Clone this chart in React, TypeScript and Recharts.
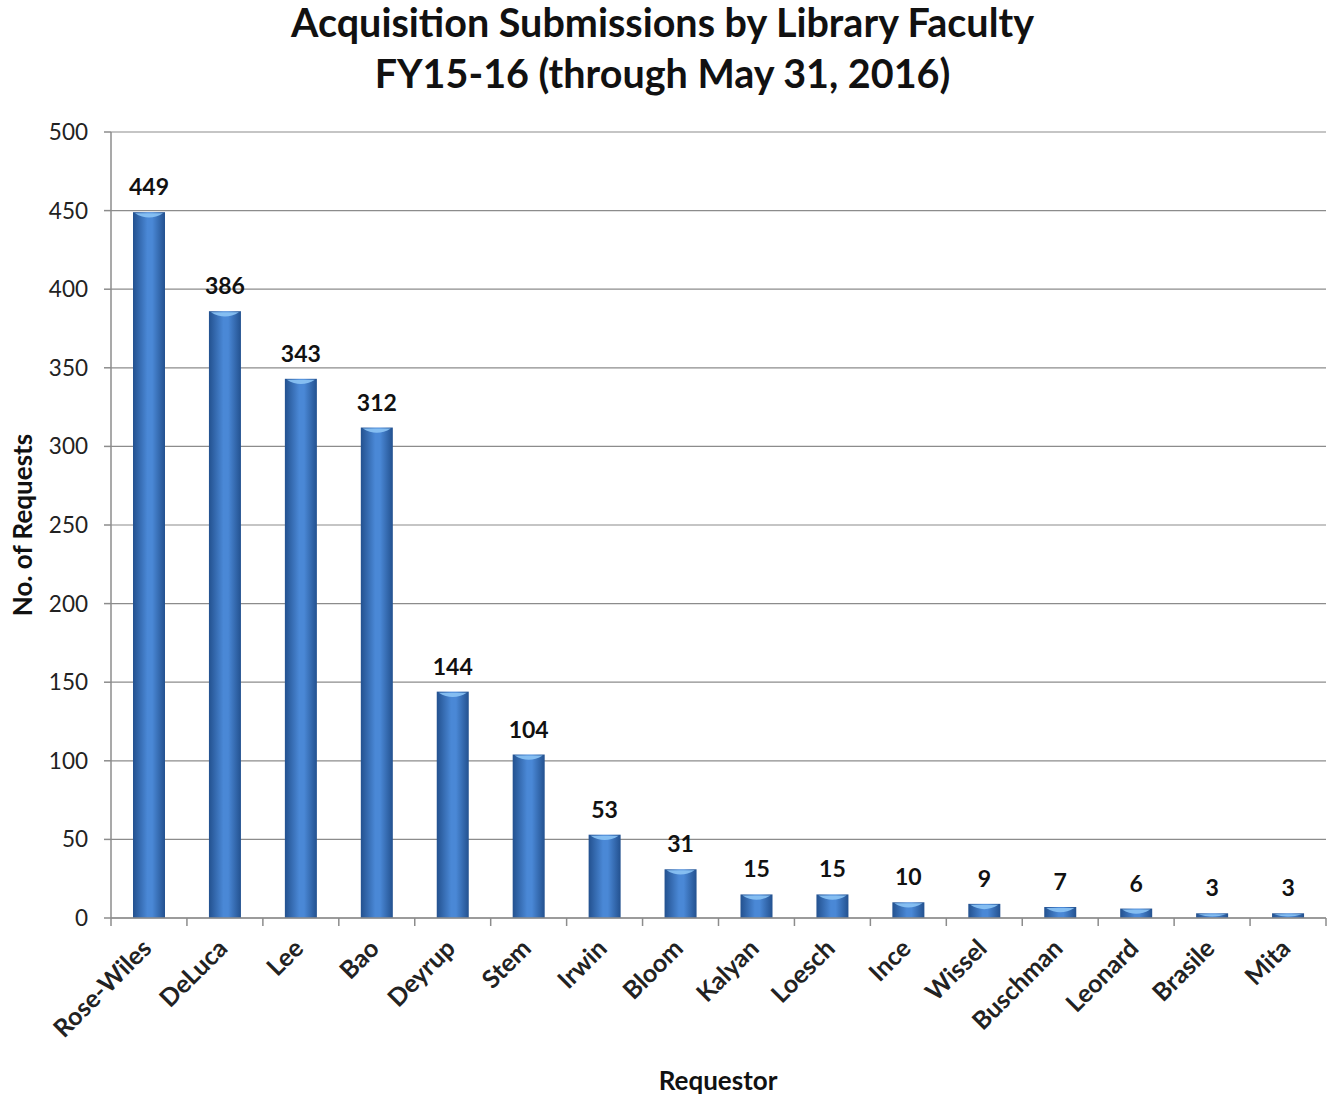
import React from 'react';
import { BarChart, Bar, XAxis, YAxis, CartesianGrid, LabelList } from 'recharts';

const requestors = [
  'Rose-Wiles', 'DeLuca', 'Lee', 'Bao', 'Deyrup', 'Stem', 'Irwin', 'Bloom',
  'Kalyan', 'Loesch', 'Ince', 'Wissel', 'Buschman', 'Leonard', 'Brasile', 'Mita',
];
const requestCounts = [449, 386, 343, 312, 144, 104, 53, 31, 15, 15, 10, 9, 7, 6, 3, 3];
const yTicks = [0, 50, 100, 150, 200, 250, 300, 350, 400, 450, 500];

const data = requestors.map((name, i) => ({ name, requests: requestCounts[i] }));

const FONT = 'Lato, "Open Sans", sans-serif';
const AXIS_GRAY = '#8c8c8c';

function CategoryTick(props: any) {
  const { x, y, payload, index } = props;
  const half = payload?.offset ?? 38;
  const last = index === requestors.length - 1;
  return (
    <g>
      <line x1={x - half} y1={y - 8} x2={x - half} y2={y} stroke={AXIS_GRAY} strokeWidth={1.5} />
      {last && <line x1={x + half} y1={y - 8} x2={x + half} y2={y} stroke={AXIS_GRAY} strokeWidth={1.5} />}
      <text
        x={x + 4}
        y={y + 24}
        textAnchor="end"
        transform={`rotate(-45, ${x + 4}, ${y + 24})`}
        fontFamily={FONT}
        fontWeight={700}
        fontSize={25}
        fill="#222"
      >
        {payload.value}
      </text>
    </g>
  );
}

function ShadedBar(props: any) {
  const { x, y, width, height } = props;
  if (!height || height <= 0) return null;
  const capH = Math.min(8, height);
  return (
    <g>
      <rect x={x} y={y} width={width} height={height} fill="url(#barShade)" />
      <path
        d={`M${x + 2},${y + 1} L${x + width - 2},${y + 1} Q${x + width / 2},${y + capH * 1.2} ${x + 2},${y + 1} Z`}
        fill="#8cc4f5"
        opacity={0.9}
      />
    </g>
  );
}

export default function App() {
  return (
    <div style={{ position: 'absolute', left: 0, top: 0, width: 1333, height: 1097, background: '#fff' }}>
      <div
        style={{
          position: 'absolute', left: 0, top: -4, width: 1325, textAlign: 'center',
          fontFamily: FONT, fontWeight: 700, fontSize: 39.5, lineHeight: '51px', color: '#111',
        }}
      >
        Acquisition Submissions by Library Faculty<br />FY15-16 (through May 31, 2016)
      </div>
      <div
        style={{
          position: 'absolute', left: 22, top: 525, transform: 'translate(-50%, -50%) rotate(-90deg)',
          fontFamily: FONT, fontWeight: 700, fontSize: 26, color: '#111', whiteSpace: 'nowrap',
        }}
      >
        No. of Requests
      </div>
      <div
        style={{
          position: 'absolute', left: 718, top: 1080, transform: 'translate(-50%, -50%)',
          fontFamily: FONT, fontWeight: 700, fontSize: 26, color: '#111', whiteSpace: 'nowrap',
        }}
      >
        Requestor
      </div>
      <BarChart
        width={1333}
        height={1097}
        data={data}
        margin={{ top: 132, right: 7, left: 0, bottom: 29 }}
        barCategoryGap="0%"
      >
        <defs>
          <linearGradient id="barShade" x1="0" y1="0" x2="1" y2="0">
            <stop offset="0%" stopColor="#23518f" />
            <stop offset="45%" stopColor="#4a88d6" />
            <stop offset="60%" stopColor="#4a88d6" />
            <stop offset="100%" stopColor="#23518f" />
          </linearGradient>
        </defs>
        <CartesianGrid vertical={false} stroke={AXIS_GRAY} strokeWidth={1.2} />
        <XAxis
          dataKey="name"
          interval={0}
          height={150}
          axisLine={{ stroke: AXIS_GRAY, strokeWidth: 1.5 }}
          tickLine={false}
          tick={<CategoryTick />}
        />
        <YAxis
          width={111}
          domain={[0, 500]}
          ticks={yTicks}
          interval={0}
          axisLine={{ stroke: AXIS_GRAY, strokeWidth: 1.5 }}
          tickLine={{ stroke: AXIS_GRAY, strokeWidth: 1.5 }}
          tickSize={7}
          tickMargin={16}
          tick={{ fontFamily: FONT, fontSize: 22.5, fill: '#222' }}
        />
        <Bar dataKey="requests" barSize={32} shape={<ShadedBar />} isAnimationActive={false}>
          <LabelList
            dataKey="requests"
            position="top"
            offset={17}
            style={{ fontFamily: FONT, fontWeight: 700, fontSize: 23, fill: '#111' }}
          />
        </Bar>
      </BarChart>
    </div>
  );
}
